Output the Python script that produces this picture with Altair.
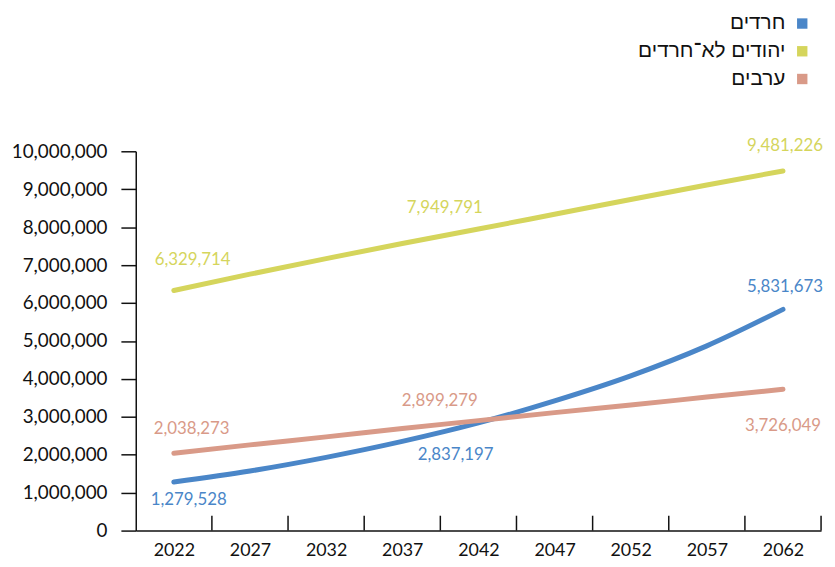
import altair as alt
import pandas as pd

years = [2022, 2027, 2032, 2037, 2042, 2047, 2052, 2057, 2062]
series_names = ["חרדים", "יהודים לא־חרדים", "ערבים"]
series_colors = ["#4A86C8", "#D5D55C", "#D99A88"]
haredi = [1279528, 1570000, 1930000, 2350000, 2837197, 3420000, 4080000, 4870000, 5831673]
non_haredi = [6329714, 6760000, 7170000, 7570000, 7949791, 8340000, 8730000, 9110000, 9481226]
arabs = [2038273, 2260000, 2470000, 2690000, 2899279, 3110000, 3310000, 3520000, 3726049]
y_ticks = [0, 1000000, 2000000, 3000000, 4000000, 5000000, 6000000, 7000000, 8000000, 9000000, 10000000]

rows = []
for name, vals in zip(series_names, [haredi, non_haredi, arabs]):
    for yr, v in zip(years, vals):
        rows.append({"year": yr, "value": v, "series": name})
df = pd.DataFrame(rows)
bounds = pd.DataFrame({"year": [y + 2.5 for y in years]})

W, H = 692, 383
FONT = "Lato"

xscale = alt.Scale(domain=[2019.5, 2064.5], nice=False, zero=False)
yscale = alt.Scale(domain=[0, 10000000], nice=False)
cscale = alt.Scale(domain=series_names, range=series_colors)

xaxis = alt.Axis(values=years, format="d", title=None, ticks=False, grid=False,
                 domainColor="#111", domainWidth=1.5, labelFont=FONT,
                 labelFontSize=18, labelColor="#111", labelPadding=11,
                 labelOverlap=False, labelFlush=False)
yaxis = alt.Axis(values=y_ticks, format=",d", title=None, grid=False,
                 domainColor="#111", domainWidth=1.5, tickColor="#111",
                 tickWidth=1.5, tickSize=15, labelFont=FONT, labelFontSize=19,
                 labelColor="#111", labelPadding=14, labelOverlap=False,
                 labelFlush=False)

def X(field):
    return alt.X(field, scale=xscale, axis=xaxis, title=None)

def Y(field):
    return alt.Y(field, scale=yscale, axis=yaxis, title=None)

base = alt.Chart(df)

lines = base.mark_line(strokeWidth=5, strokeCap="round", interpolate="monotone").encode(
    x=X("year:Q"),
    y=Y("value:Q"),
    color=alt.Color("series:N", scale=cscale, legend=None),
    detail="series:N",
)

xticks = alt.Chart(bounds).mark_rule(color="#111", strokeWidth=1.5).encode(
    x=X("year:Q"),
    y=alt.value(H - 15),
    y2=alt.value(H),
)

# (series index, year, dx, dy)
label_specs = [
    (1, 2022, 19, -31), (2, 2022, 18, -24), (0, 2022, 15, 18),
    (1, 2042, -34, -21), (2, 2042, -39, -20), (0, 2042, -23, 32),
    (1, 2062, 2, -25), (0, 2062, 2, -23), (2, 2062, 0, 37),
]
labels = []
for si, yr, dx, dy in label_specs:
    name = series_names[si]
    labels.append(
        base.transform_filter((alt.datum.series == name) & (alt.datum.year == yr))
        .mark_text(font=FONT, fontSize=17, dx=dx, dy=dy, color=series_colors[si])
        .encode(x=X("year:Q"), y=Y("value:Q"), text=alt.Text("value:Q", format=","))
    )

legend = []
for i, (name, col) in enumerate(zip(series_names, series_colors)):
    yy = -129 + 28 * i
    one = alt.Data(values=[{"name": name}])
    legend.append(alt.Chart(one).mark_square(size=110, color=col, opacity=1).encode(
        x=alt.value(673), y=alt.value(yy)))
    legend.append(alt.Chart(one).mark_text(font="Liberation Sans", fontSize=21, align="right",
                                           baseline="middle", color="#111").encode(
        x=alt.value(656), y=alt.value(yy), text="name:N"))

chart = alt.layer(lines, xticks, *labels, *legend).properties(
    width=W, height=H,
    padding={"left": 129, "top": 142, "right": 6, "bottom": 26},
    autosize=alt.AutoSizeParams(type="none"),
).configure_view(stroke=None)

chart.save("out.html", embed_options={"renderer": "svg", "actions": False})
